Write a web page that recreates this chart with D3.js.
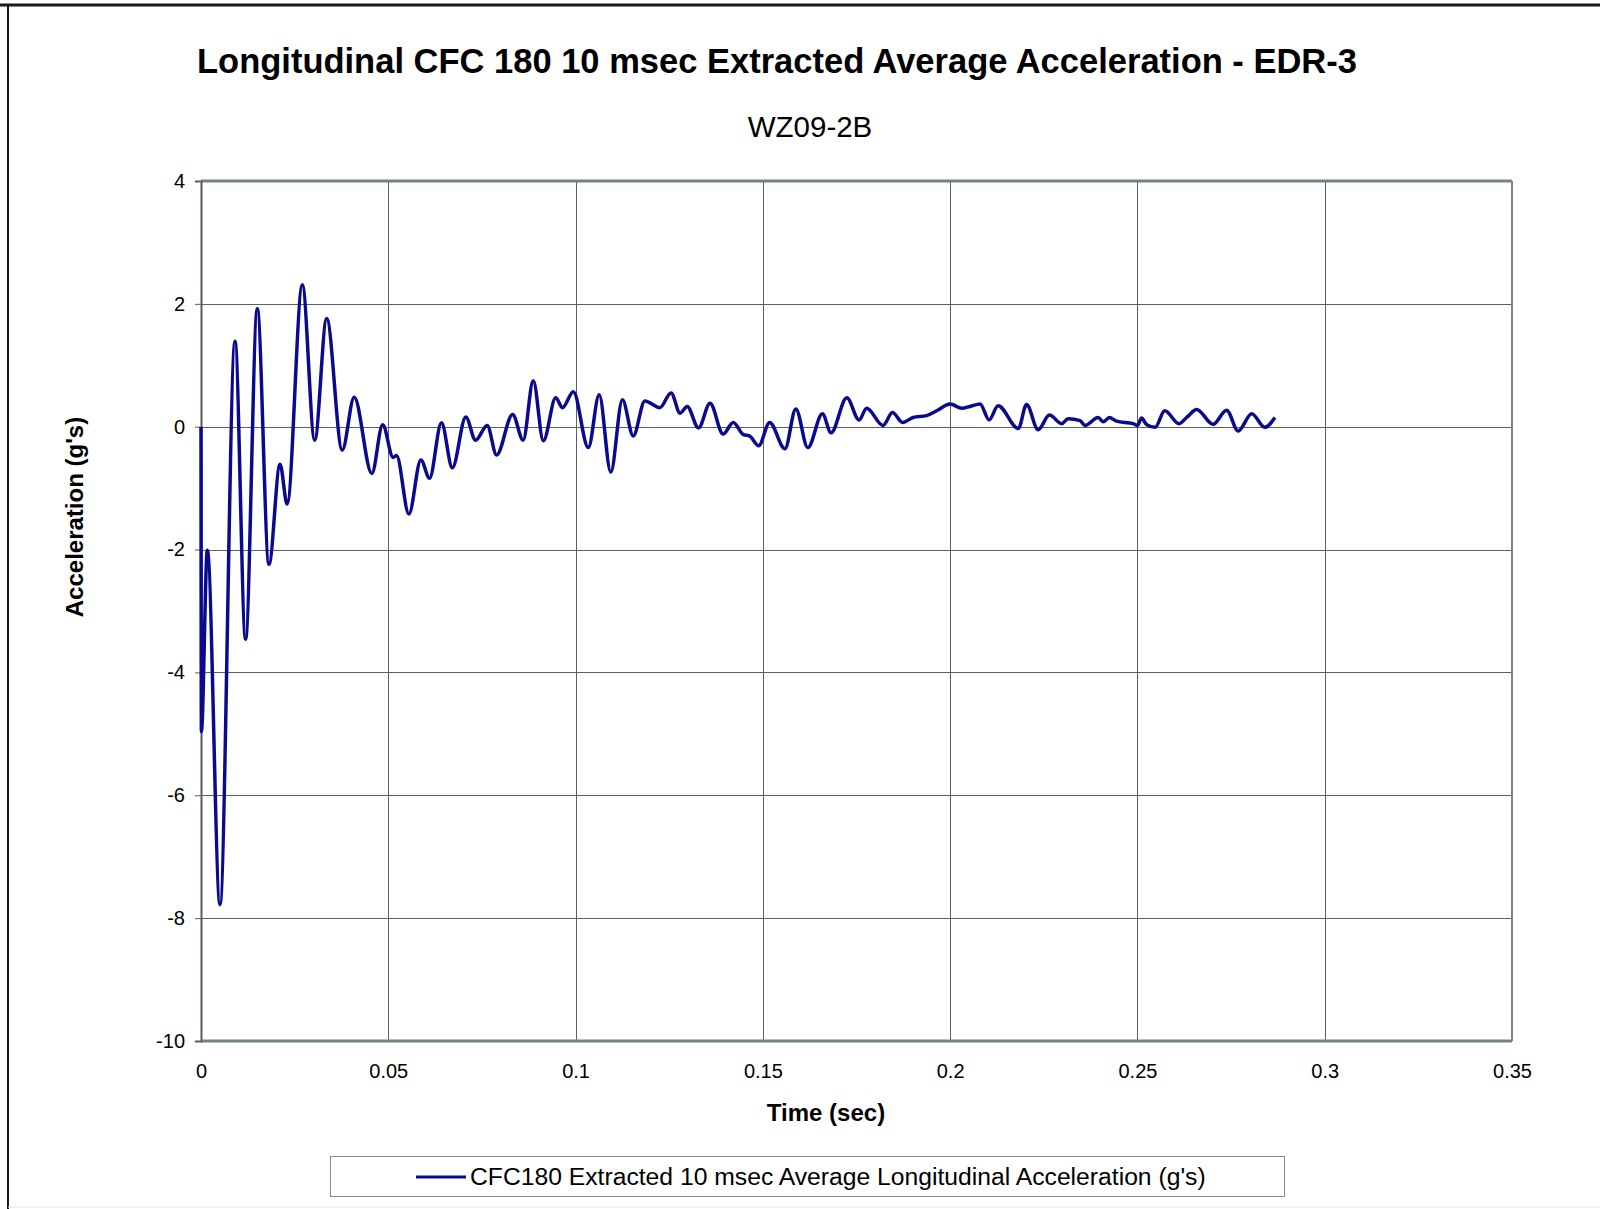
<!DOCTYPE html>
<html>
<head>
<meta charset="utf-8">
<script src="https://cdnjs.cloudflare.com/ajax/libs/d3/7.8.5/d3.min.js"></script>
<style>
    body { margin: 0; background: #ffffff; }
    text { font-family: "Liberation Sans", Arial, sans-serif; }
</style>
</head>
<body>
<div id="accel-chart"></div>
<script>

// values
var timeValues = [0, 0.0001, 0.00169, 0.00507, 0.00908, 0.0119, 0.01503, 0.01815, 0.0211, 0.023,
    0.02705, 0.03035, 0.03355, 0.0377, 0.0409, 0.0456, 0.0485, 0.0513, 0.0522, 0.0555,
    0.0587, 0.061, 0.0642, 0.0671, 0.0707, 0.0733, 0.0764, 0.0789, 0.0832, 0.086,
    0.0887, 0.0914, 0.0947, 0.0965, 0.0994, 0.1034, 0.1063, 0.1094, 0.1125, 0.1154,
    0.1185, 0.1225, 0.1255, 0.1279, 0.1298, 0.1328, 0.1359, 0.1394, 0.1421, 0.1448,
    0.1464, 0.1489, 0.1518, 0.1559, 0.1588, 0.162, 0.1659, 0.1682, 0.1724, 0.1757,
    0.1777, 0.1821, 0.1846, 0.1873, 0.1901, 0.1937, 0.1964, 0.2, 0.2031, 0.2053,
    0.208, 0.2104, 0.2128, 0.2182, 0.2204, 0.2235, 0.2265, 0.2298, 0.2315, 0.2347,
    0.236, 0.2395, 0.2409, 0.2425, 0.2444, 0.2489, 0.25, 0.2511, 0.2525, 0.2547,
    0.2573, 0.2611, 0.2633, 0.2658, 0.2702, 0.2738, 0.2769, 0.2805, 0.284, 0.2867];

var accelValues = [0, -4.96, -2.01, -7.78, 1.39, -3.46, 1.92, -2.24, -0.61, -1.26,
    2.31, -0.22, 1.76, -0.38, 0.48, -0.76, 0.03, -0.5, -0.47, -1.42,
    -0.54, -0.84, 0.065, -0.67, 0.16, -0.22, 0.02, -0.46, 0.2, -0.22,
    0.75, -0.23, 0.47, 0.31, 0.57, -0.34, 0.52, -0.74, 0.44, -0.15,
    0.42, 0.31, 0.55, 0.22, 0.33, -0.02, 0.38, -0.12, 0.07, -0.13,
    -0.15, -0.31, 0.07, -0.36, 0.29, -0.34, 0.21, -0.1, 0.47, 0.11,
    0.3, 0.02, 0.23, 0.07, 0.15, 0.18, 0.26, 0.37, 0.3, 0.33,
    0.37, 0.11, 0.34, -0.03, 0.36, -0.05, 0.19, 0.05, 0.13, 0.1,
    0.02, 0.15, 0.08, 0.15, 0.09, 0.05, 0.02, 0.14, 0.03, -0.01,
    0.26, 0.05, 0.16, 0.28, 0.04, 0.27, -0.07, 0.21, -0.01, 0.15];

var xTicks = [0, 0.05, 0.1, 0.15, 0.2, 0.25, 0.3, 0.35];
var yTicks = [-10, -8, -6, -4, -2, 0, 2, 4];

var chartTitle = "Longitudinal CFC 180 10 msec Extracted Average Acceleration - EDR-3";
var chartSubtitle = "WZ09-2B";
var xTitle = "Time (sec)";
var yTitle = "Acceleration (g's)";
var seriesName = "CFC180 Extracted 10 msec Average Longitudinal Acceleration (g's)";

function AccelChart() {
    var self = this;
    self.init();
}

AccelChart.prototype.init = function () {
    var self = this;
    self.width = 1600;
    self.height = 1209;
    self.margin = {top: 181, right: 88, bottom: 168, left: 201};

    d3.select("#accel-chart").select("svg").remove();
    self.svg = d3.select("#accel-chart").append("svg")
        .attr("width", self.width)
        .attr("height", self.height);

    self.svg.append("rect")
        .attr("width", self.width)
        .attr("height", self.height)
        .attr("fill", "#ffffff");
};

AccelChart.prototype.update = function () {
    var self = this;
    var m = self.margin;
    var plotW = self.width - m.left - m.right;
    var plotH = self.height - m.top - m.bottom;

    var data = timeValues.map(function (t, i) {
        return {t: t, v: accelValues[i]};
    });

    var x = d3.scaleLinear().domain([0, 0.35]).range([0, plotW]);
    var y = d3.scaleLinear().domain([-10, 4]).range([plotH, 0]);

    //outer frame of the picture
    self.svg.append("line")
        .attr("x1", 0).attr("x2", self.width)
        .attr("y1", 5).attr("y2", 5)
        .style("stroke", "#1a1a1a")
        .style("stroke-width", 3);
    self.svg.append("line")
        .attr("x1", 8).attr("x2", 8)
        .attr("y1", 4).attr("y2", self.height)
        .style("stroke", "#1a1a1a")
        .style("stroke-width", 2);
    self.svg.append("line")
        .attr("x1", 8).attr("x2", self.width)
        .attr("y1", 1207).attr("y2", 1207)
        .style("stroke", "#e6e6e6")
        .style("stroke-width", 1);

    var g = self.svg.append("g")
        .attr("transform", "translate(" + m.left + "," + m.top + ")");

    //grid lines
    g.append("g")
        .selectAll("line")
        .data(yTicks)
        .enter()
        .append("line")
        .attr("x1", 0)
        .attr("x2", plotW)
        .attr("y1", function (d) { return Math.round(y(d)) + 0.5; })
        .attr("y2", function (d) { return Math.round(y(d)) + 0.5; })
        .style("stroke", "#5f5f5f")
        .style("stroke-width", 1);

    g.append("g")
        .selectAll("line")
        .data(xTicks)
        .enter()
        .append("line")
        .attr("x1", function (d) { return Math.round(x(d)) + 0.5; })
        .attr("x2", function (d) { return Math.round(x(d)) + 0.5; })
        .attr("y1", 0)
        .attr("y2", plotH)
        .style("stroke", "#5f5f5f")
        .style("stroke-width", 1);

    //plot frame
    g.append("line")
        .attr("x1", 0).attr("x2", plotW)
        .attr("y1", 0).attr("y2", 0)
        .style("stroke", "#74837f")
        .style("stroke-width", 3);
    g.append("line")
        .attr("x1", 0).attr("x2", plotW)
        .attr("y1", plotH).attr("y2", plotH)
        .style("stroke", "#74837f")
        .style("stroke-width", 3);
    g.append("line")
        .attr("x1", plotW).attr("x2", plotW)
        .attr("y1", 0).attr("y2", plotH)
        .style("stroke", "#7a8483")
        .style("stroke-width", 2);

    //axes
    var yAxis = d3.axisLeft(y)
        .tickValues(yTicks)
        .tickSize(6)
        .tickPadding(10)
        .tickFormat(function (d) { return String(d); });
    var yAxisG = g.append("g").call(yAxis);
    yAxisG.select(".domain")
        .attr("stroke", "#555e5c")
        .attr("stroke-width", 2);
    yAxisG.selectAll(".tick line").attr("stroke", "#555e5c");
    yAxisG.selectAll("text")
        .attr("fill", "#000")
        .style("font-size", "20px");

    var xAxis = d3.axisBottom(x)
        .tickValues(xTicks)
        .tickSize(0)
        .tickPadding(23)
        .tickFormat(function (d) { return String(d); });
    var xAxisG = g.append("g")
        .attr("transform", "translate(0," + plotH + ")")
        .call(xAxis);
    xAxisG.select(".domain").remove();
    xAxisG.selectAll("text")
        .attr("fill", "#000")
        .style("font-size", "20px");

    //series line
    var line = d3.line()
        .x(function (d) { return x(d.t); })
        .y(function (d) { return y(d.v); })
        .curve(d3.curveMonotoneX);

    g.append("path")
        .datum(data)
        .attr("d", line)
        .style("fill", "none")
        .style("stroke", "#0a0a8e")
        .style("stroke-width", 3.5)
        .style("stroke-linejoin", "round");

    //titles
    self.svg.append("text")
        .attr("x", 777)
        .attr("y", 73)
        .attr("text-anchor", "middle")
        .style("font-size", "34.5px")
        .style("font-weight", "bold")
        .text(chartTitle);

    self.svg.append("text")
        .attr("x", 810)
        .attr("y", 137)
        .attr("text-anchor", "middle")
        .style("font-size", "29.5px")
        .text(chartSubtitle);

    self.svg.append("text")
        .attr("x", 826)
        .attr("y", 1121)
        .attr("text-anchor", "middle")
        .style("font-size", "24px")
        .style("font-weight", "bold")
        .text(xTitle);

    self.svg.append("text")
        .attr("transform", "translate(83,517) rotate(-90)")
        .attr("text-anchor", "middle")
        .style("font-size", "24px")
        .style("font-weight", "bold")
        .text(yTitle);

    //legend
    var legend = self.svg.append("g");
    legend.append("rect")
        .attr("x", 330.5)
        .attr("y", 1156.5)
        .attr("width", 954)
        .attr("height", 40)
        .style("fill", "#ffffff")
        .style("stroke", "#8a8a8a")
        .style("stroke-width", 1);
    legend.append("line")
        .attr("x1", 416).attr("x2", 466)
        .attr("y1", 1177).attr("y2", 1177)
        .style("stroke", "#0a0a8e")
        .style("stroke-width", 3);
    legend.append("text")
        .attr("x", 470)
        .attr("y", 1185)
        .style("font-size", "24.7px")
        .text(seriesName);
};

var chart = new AccelChart();
chart.update();
</script>
</body>
</html>
